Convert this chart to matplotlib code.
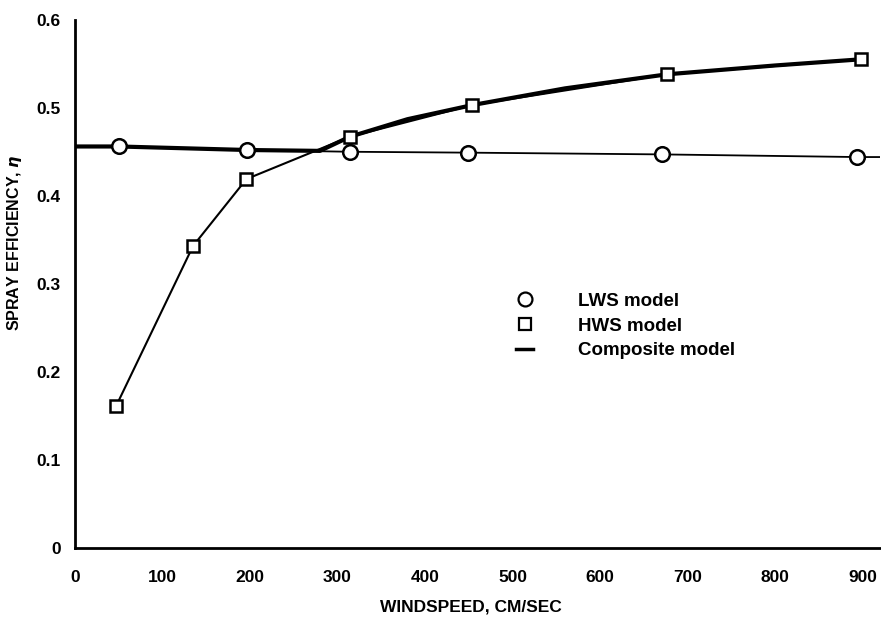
import numpy as np
import matplotlib
matplotlib.use('Agg')
import matplotlib.pyplot as plt
from matplotlib.lines import Line2D

#============ Data ==============
lws_x = [50, 197, 314, 449, 671, 894]
lws_y = [0.456, 0.452, 0.450, 0.449, 0.447, 0.444]
# thin LWS line runs from the axis to past the last point
lws_line_x = [0, 50, 197, 314, 449, 671, 894, 920]
lws_line_y = [0.456, 0.456, 0.452, 0.450, 0.449, 0.447, 0.444, 0.444]

hws_x = [47, 135, 196, 314, 454, 677, 898]
hws_y = [0.161, 0.343, 0.419, 0.467, 0.503, 0.538, 0.555]

# composite = LWS below crossover (~290 cm/s), HWS above
comp_x = [0, 50, 197, 280, 314, 380, 454, 560, 677, 800, 898]
comp_y = [0.456, 0.456, 0.452, 0.451, 0.467, 0.487, 0.503, 0.522, 0.538, 0.548, 0.555]

xticks = [0, 100, 200, 300, 400, 500, 600, 700, 800, 900]
yticks = [0, 0.1, 0.2, 0.3, 0.4, 0.5, 0.6]
ytick_labels = ['0', '0.1', '0.2', '0.3', '0.4', '0.5', '0.6']

plt.rcParams['font.family'] = ['Liberation Sans', 'DejaVu Sans']
plt.rcParams['font.weight'] = 'bold'

#============ Plot ==============
fig = plt.figure(figsize=(8.81, 6.23), dpi=100)
ax = fig.add_axes([0.085, 0.1204, 0.914, 0.848])

ax.plot(lws_line_x, lws_line_y, color='black', lw=1.3, zorder=2)
ax.plot(hws_x, hws_y, color='black', lw=1.5, zorder=2)
ax.plot(comp_x, comp_y, color='black', lw=3.0, solid_capstyle='butt', zorder=3)
ax.plot(lws_x, lws_y, 'o', ms=10.5, mfc='white', mec='black', mew=1.8, zorder=4)
ax.plot(hws_x, hws_y, 's', ms=8.5, mfc='white', mec='black', mew=1.8, zorder=4)

ax.set_xlim(0, 920)
ax.set_ylim(0, 0.6)
ax.set_xticks(xticks)
ax.set_yticks(yticks)
ax.set_yticklabels(ytick_labels)
ax.tick_params(length=0, labelsize=12.5)
ax.tick_params(axis='x', pad=16)
ax.tick_params(axis='y', pad=10)
for lab in ax.get_xticklabels() + ax.get_yticklabels():
    lab.set_fontweight('bold')

ax.spines['top'].set_visible(False)
ax.spines['right'].set_visible(False)
ax.spines['left'].set_linewidth(2.0)
ax.spines['bottom'].set_linewidth(2.0)

ax.set_xlabel('WINDSPEED, CM/SEC', fontsize=12.5, fontweight='bold')
ax.xaxis.set_label_coords(0.492, -0.098)
ax.set_ylabel(r'SPRAY EFFICIENCY, $\eta$', fontsize=11.5, fontweight='bold')
ax.yaxis.set_label_coords(-0.063, 0.578)

handles = [
    Line2D([], [], marker='o', ls='none', ms=10, mfc='white', mec='black', mew=1.6),
    Line2D([], [], marker='s', ls='none', ms=9, mfc='white', mec='black', mew=1.6),
    Line2D([], [], color='black', lw=2.5),
]
ax.legend(handles, ['LWS model', 'HWS model', 'Composite model'],
          loc='upper left', bbox_to_anchor=(0.527, 0.515), frameon=False,
          handlelength=0.9, handletextpad=2.4, labelspacing=0.4,
          prop={'size': 13.5, 'weight': 'bold'})

plt.savefig('out.png', dpi=100)
